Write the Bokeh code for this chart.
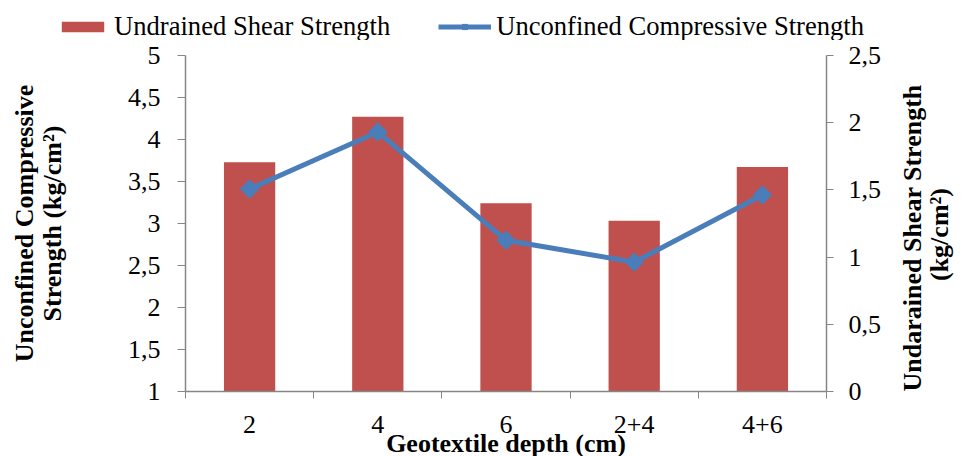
import math
from bokeh.plotting import figure
from bokeh.models import (Range1d, LinearAxis, FixedTicker, CustomJSTickFormatter,
                          Legend, LegendItem)
from bokeh.embed import file_html
from bokeh.resources import INLINE

# Geotextile placement depths (cm)
depths = ["2", "4", "6", "2+4", "4+6"]
# Unconfined compressive strength, kg/cm2 (left axis)
ucs = [3.41, 4.09, 2.80, 2.54, 3.34]
# Undrained shear strength, kg/cm2 (right axis)
cu = [1.705, 2.045, 1.40, 1.27, 1.67]

left_ticks = [1, 1.5, 2, 2.5, 3, 3.5, 4, 4.5, 5]
right_ticks = [0, 0.5, 1, 1.5, 2, 2.5]

cu_label = "Undrained Shear Strength"
ucs_label = "Unconfined Compressive Strength"

FONT = "Liberation Serif"
FS = "26px"
AXIS_GRAY = "#868686"
BAR_RED = "#C0504D"
LINE_BLUE = "#4A7EBB"
NBSP = "\u00a0"

xpos = [i + 0.5 for i in range(len(depths))]

p = figure(frame_width=641, frame_height=336, output_backend="svg", toolbar_location=None,
           x_range=Range1d(0, len(depths)), y_range=Range1d(left_ticks[0], left_ticks[-1]),
           min_border_left=185, min_border_right=136, min_border_top=15,
           min_border_bottom=65, outline_line_color=None,
           background_fill_color="white", border_fill_color="white")
p.xgrid.visible = False
p.ygrid.visible = False

p.extra_y_ranges = {"cu": Range1d(right_ticks[0], right_ticks[-1])}

comma = CustomJSTickFormatter(code="return tick.toString().replace('.', ',');")

bar_style = dict(fill_color=BAR_RED, line_color=None)
line_style = dict(line_color=LINE_BLUE, line_width=5)
mark_style = dict(marker="square", angle=math.pi / 4, size=13,
                  fill_color=LINE_BLUE, line_color=LINE_BLUE)

p.vbar(x=xpos, top=cu, bottom=0, width=0.4, y_range_name="cu", **bar_style)
p.line(x=xpos, y=ucs, **line_style)
p.scatter(x=xpos, y=ucs, **mark_style)

# x axis: labels centred on each category, short ticks between categories
xa = p.xaxis[0]
xa.ticker = FixedTicker(ticks=xpos, minor_ticks=list(range(len(depths) + 1)))
xa.formatter = CustomJSTickFormatter(args=dict(labels=depths),
                                     code="return labels[Math.floor(tick)];")
xa.major_tick_in = 0
xa.major_tick_out = 0
xa.minor_tick_in = 0
xa.minor_tick_out = 7
xa.minor_tick_line_color = AXIS_GRAY
xa.axis_line_color = AXIS_GRAY
xa.axis_line_width = 1.5
xa.major_label_standoff = 17
xa.major_label_text_font = FONT
xa.major_label_text_font_size = FS
xa.major_label_text_color = "black"
xa.axis_label = "Geotextile depth (cm)"
xa.axis_label_text_font = FONT
xa.axis_label_text_font_size = FS
xa.axis_label_text_font_style = "bold"
xa.axis_label_text_color = "black"
xa.axis_label_standoff = -7

# left axis: unconfined compressive strength
ya = p.yaxis[0]
ya.ticker = FixedTicker(ticks=left_ticks, minor_ticks=[])
ya.formatter = comma
ya.major_tick_in = 0
ya.major_tick_out = 8
ya.major_tick_line_color = AXIS_GRAY
ya.axis_line_color = AXIS_GRAY
ya.axis_line_width = 1.5
ya.major_label_standoff = 17
ya.major_label_text_font = FONT
ya.major_label_text_font_size = FS
ya.major_label_text_color = "black"
ya.axis_label = "Unconfined Compressive\nStrength (kg/cm\u00b2)"
ya.axis_label_text_font = FONT
ya.axis_label_text_font_size = FS
ya.axis_label_text_font_style = "bold"
ya.axis_label_text_color = "black"
ya.axis_label_text_line_height = 0.95
ya.axis_label_standoff = 58

# right axis: undrained shear strength, title reading bottom-to-top
ra = LinearAxis(y_range_name="cu")
ra.ticker = FixedTicker(ticks=right_ticks, minor_ticks=[])
ra.formatter = comma
ra.major_tick_in = 0
ra.major_tick_out = 7
ra.major_tick_line_color = AXIS_GRAY
ra.axis_line_color = AXIS_GRAY
ra.axis_line_width = 1.5
ra.major_label_standoff = 15
ra.major_label_text_font = FONT
ra.major_label_text_font_size = FS
ra.major_label_text_color = "black"
ra.axis_label = "Undarained Shear Strength\n" + NBSP * 17 + "(kg/cm\u00b2)"
ra.axis_label_text_font = FONT
ra.axis_label_text_font_size = FS
ra.axis_label_text_font_style = "bold"
ra.axis_label_text_color = "black"
ra.axis_label_text_line_height = 0.95
ra.axis_label_standoff = 42
ra.axis_label_orientation = math.pi / 2
ra.axis_label_align = "start"
p.add_layout(ra, "right")

# legend strip across the top of the page; its key renderers sit outside
# the strip's ranges so only the legend itself shows
lg = figure(width=962, height=40, output_backend="svg", toolbar_location=None,
            x_range=Range1d(0, 1), y_range=Range1d(0, 1),
            x_axis_location=None, y_axis_location=None,
            min_border=0, outline_line_color=None,
            background_fill_color="white", border_fill_color="white")
lg.xgrid.visible = False
lg.ygrid.visible = False
key_bar = lg.vbar(x=[5], top=[5], bottom=[4], width=0.1, **bar_style)
key_line = lg.line(x=[5, 6], y=[5, 5], **line_style)
key_mark = lg.scatter(x=[5], y=[5], **mark_style)

legend = Legend(items=[
    LegendItem(label=cu_label, renderers=[key_bar]),
    LegendItem(label=ucs_label, renderers=[key_line, key_mark]),
], orientation="horizontal", location=(56, -2),
    glyph_width=53, glyph_height=13, label_standoff=5, spacing=48,
    padding=0, margin=0, border_line_alpha=0, background_fill_alpha=0,
    label_text_font=FONT, label_text_font_size="26.6px", label_text_color="black",
    label_height=26)
lg.add_layout(legend)

open("out.html", "w").write(file_html([lg, p], INLINE))
